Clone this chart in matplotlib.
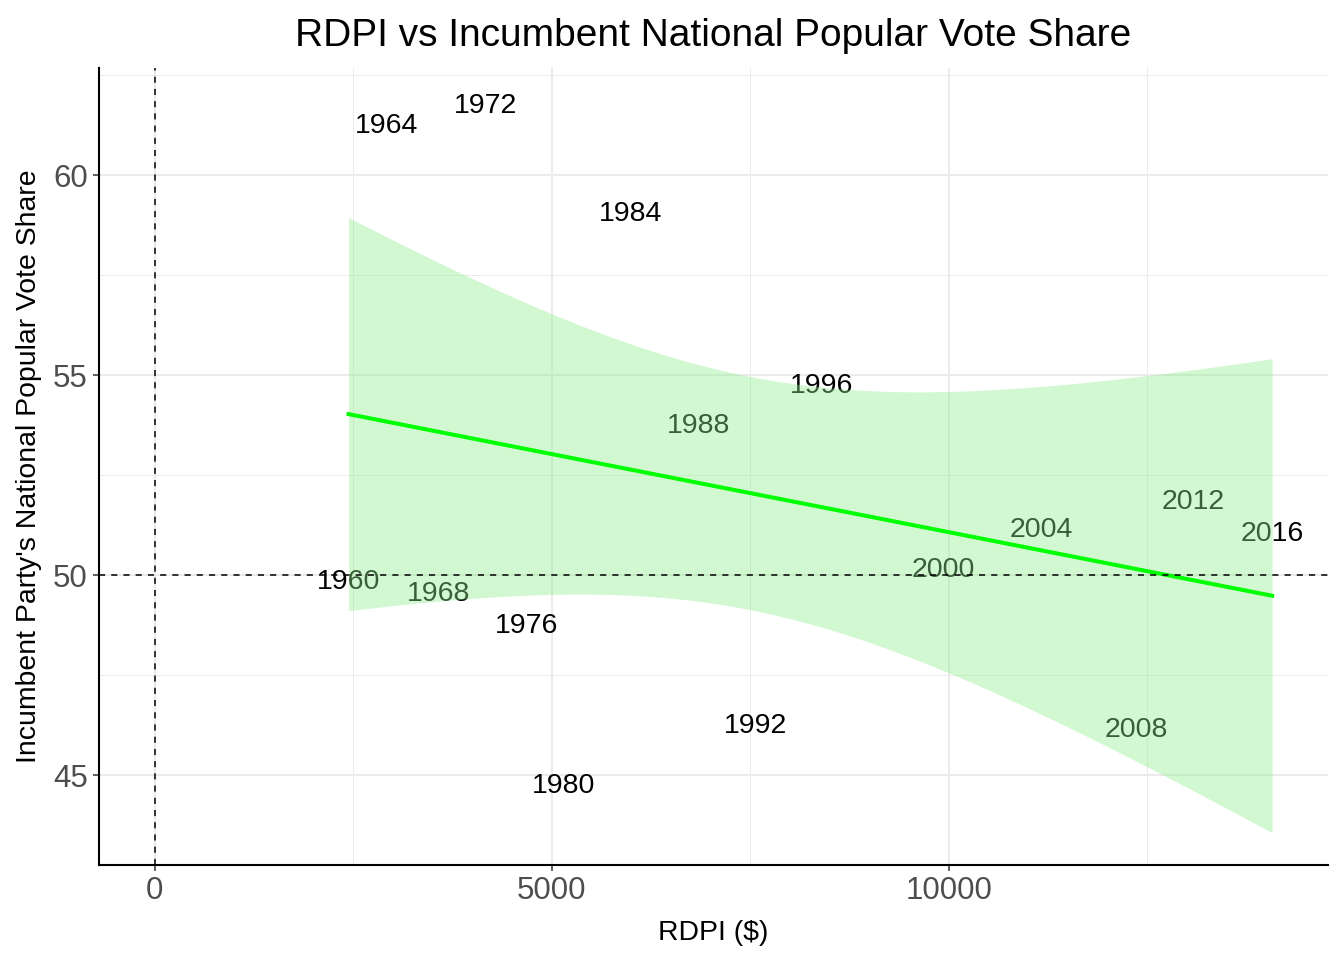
import numpy as np
import matplotlib
matplotlib.use("Agg")
import matplotlib.pyplot as plt
from matplotlib.ticker import MultipleLocator

plt.rcParams["font.family"] = ["Liberation Sans", "DejaVu Sans"]

years = ["1960", "1964", "1968", "1972", "1976", "1980", "1984", "1988",
         "1992", "1996", "2000", "2004", "2008", "2012", "2016"]
rdpi = [2440, 2918, 3572, 4164, 4679, 5145, 5987, 6855,
        7572, 8403, 9937, 11170, 12365, 13082, 14075]
vote = [49.9, 61.3, 49.6, 61.8, 48.8, 44.8, 59.1, 53.8,
        46.3, 54.8, 50.2, 51.2, 46.2, 51.9, 51.1]

x = np.array(rdpi, dtype=float)
y = np.array(vote, dtype=float)

# linear fit with 95% confidence band (like geom_smooth(method = "lm"))
n = len(x)
slope, intercept = np.polyfit(x, y, 1)
resid = y - (intercept + slope * x)
s = np.sqrt(np.sum(resid ** 2) / (n - 2))
t_crit = 2.160  # t(0.975, df = 13)
xs = np.linspace(x.min(), x.max(), 80)
fit = intercept + slope * xs
se = s * np.sqrt(1 / n + (xs - x.mean()) ** 2 / np.sum((x - x.mean()) ** 2))
lo = fit - t_crit * se
hi = fit + t_crit * se

fig = plt.figure(figsize=(13.44, 9.6), dpi=100)
ax = fig.add_axes([99 / 1344, 1 - 865 / 960, (1328 - 99) / 1344, (865 - 68) / 960])

for yr, xi, yi in zip(years, rdpi, vote):
    ax.text(xi, yi, yr, ha="center", va="center_baseline", fontsize=20.5,
            color="black", zorder=2)

ax.fill_between(xs, lo, hi, color="#90EE90", alpha=0.4, linewidth=0, zorder=3)
ax.plot(xs, fit, color="#00FF00", linewidth=2.9, zorder=4)

ax.axhline(50, color="black", linestyle=(0, (4, 4)), linewidth=1.1, zorder=5)
ax.axvline(0, color="black", linestyle=(0, (4, 4)), linewidth=1.1, zorder=5)

xmin, xmax = 0, x.max()
xpad = (xmax - xmin) * 0.05
ax.set_xlim(xmin - xpad, xmax + xpad)
ax.set_ylim(42.75, 62.68)

ax.xaxis.set_major_locator(MultipleLocator(5000))
ax.xaxis.set_minor_locator(MultipleLocator(2500))
ax.yaxis.set_major_locator(MultipleLocator(5))
ax.yaxis.set_minor_locator(MultipleLocator(2.5))

ax.grid(True, which="major", color="#EBEBEB", linewidth=1.4, zorder=0)
ax.grid(True, which="minor", color="#EBEBEB", linewidth=0.7, zorder=0)
ax.set_axisbelow(True)

for side in ["top", "right"]:
    ax.spines[side].set_visible(False)
for side in ["left", "bottom"]:
    ax.spines[side].set_linewidth(1.5)
    ax.spines[side].set_color("black")

ax.tick_params(which="major", length=4, width=1.1, color="#333333",
               labelsize=22.5, labelcolor="#4D4D4D", pad=4)
ax.tick_params(which="minor", length=0)

ax.set_xlabel("RDPI ($)", fontsize=20.4, labelpad=10)
ax.set_ylabel("Incumbent Party's National Popular Vote Share", fontsize=20.4, labelpad=8)
ax.set_title("RDPI vs Incumbent National Popular Vote Share", fontsize=28, pad=16)

fig.savefig("out.png", dpi=100)
